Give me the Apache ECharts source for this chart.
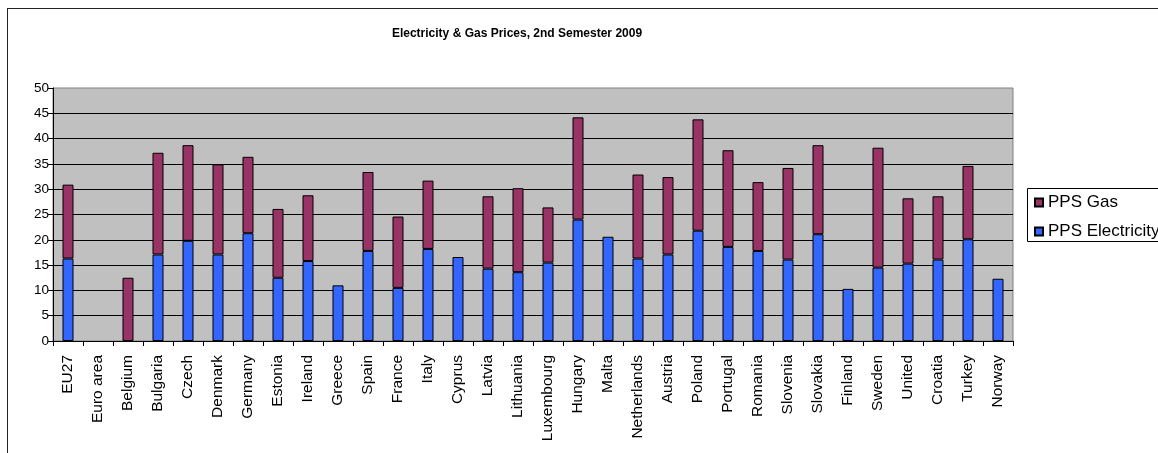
<!DOCTYPE html>
<html>
<head>
<meta charset="utf-8">
<script src="https://cdn.jsdelivr.net/npm/echarts@6/dist/echarts.min.js"></script>
<style>
  html, body { margin: 0; padding: 0; background: #fff; overflow: hidden; }
  #chart { position: absolute; left: 0; top: 0; width: 1158px; height: 453px; }
  #frame { position: absolute; left: 7px; top: 8px; width: 1400px; height: 600px;
           border: 1px solid #222; pointer-events: none; }
</style>
</head>
<body>
<div id="chart"></div>
<div id="frame"></div>
<script>
// Countries along the category axis
const countries = ['EU27', 'Euro area', 'Belgium', 'Bulgaria', 'Czech', 'Denmark', 'Germany',
  'Estonia', 'Ireland', 'Greece', 'Spain', 'France', 'Italy', 'Cyprus', 'Latvia', 'Lithuania',
  'Luxembourg', 'Hungary', 'Malta', 'Netherlands', 'Austria', 'Poland', 'Portugal', 'Romania',
  'Slovenia', 'Slovakia', 'Finland', 'Sweden', 'United', 'Croatia', 'Turkey', 'Norway'];

// Electricity price (PPS), lower segment of each stack
const ppsElectricity = [16.3, null, null, 17.1, 19.8, 17.1, 21.3, 12.5, 15.8, 11.0, 17.8, 10.5,
  18.2, 16.6, 14.3, 13.6, 15.5, 24.0, 20.6, 16.3, 17.1, 21.8, 18.6, 17.8,
  16.1, 21.1, 10.3, 14.5, 15.3, 16.1, 20.1, 12.3];

// Gas price (PPS), stacked on top of electricity
const ppsGas = [14.6, null, 12.5, 20.1, 18.9, 17.8, 15.1, 13.6, 13.0, null, 15.6, 14.1,
  13.5, null, 14.3, 16.6, 10.9, 20.2, null, 16.6, 15.3, 22.0, 19.1, 13.6,
  18.1, 17.6, null, 23.7, 12.9, 12.5, 14.5, null];

const FONT = '"Liberation Sans", Arial, sans-serif';

const chart = echarts.init(document.getElementById('chart'), null, { renderer: 'canvas' });

chart.setOption({
  backgroundColor: '#ffffff',
  animation: false,
  title: {
    text: 'Electricity & Gas Prices, 2nd Semester 2009',
    left: 517,
    top: 28,
    textAlign: 'center',
    padding: 0,
    textStyle: { fontFamily: FONT, fontSize: 12, fontWeight: 'bold', color: '#000' }
  },
  // legend frame, open to the right where it runs past the page edge
  graphic: [{
    type: 'rect',
    left: 1027,
    top: 188,
    shape: { width: 200, height: 53 },
    style: { fill: '#fff', stroke: '#000', lineWidth: 1 },
    z: 0
  }],
  legend: {
    orient: 'vertical',
    left: 1027,
    top: 188,
    padding: [6, 0, 3, 7],
    itemWidth: 8,
    itemHeight: 8,
    itemGap: 12,
    icon: 'rect',
    textStyle: { fontFamily: FONT, fontSize: 17, lineHeight: 16, color: '#000' },
    data: ['PPS Gas', 'PPS Electricity'],
    z: 5
  },
  grid: {
    left: 53,
    top: 88,
    width: 960,
    height: 253,
    show: true,
    backgroundColor: '#C0C0C0',
    borderColor: '#808080',
    borderWidth: 1
  },
  xAxis: {
    type: 'category',
    data: countries,
    boundaryGap: true,
    axisLine: { show: true, lineStyle: { color: '#000', width: 1 } },
    axisTick: { show: true, alignWithLabel: false, inside: false, length: 5,
                lineStyle: { color: '#000' } },
    axisLabel: { rotate: 90, interval: 0, margin: 14, fontFamily: FONT,
                 fontSize: 15.5, color: '#000' },
    splitLine: { show: false }
  },
  yAxis: {
    type: 'value',
    min: 0,
    max: 50,
    interval: 5,
    axisLine: { show: true, lineStyle: { color: '#000', width: 1 } },
    axisTick: { show: true, inside: false, length: 5, lineStyle: { color: '#000' } },
    axisLabel: { margin: 4, fontFamily: FONT, fontSize: 13.5, color: '#000' },
    splitLine: { show: true, showMaxLine: false, lineStyle: { color: '#000', width: 1 } }
  },
  series: [
    {
      name: 'PPS Electricity',
      type: 'bar',
      stack: 'price',
      barWidth: 11,
      data: ppsElectricity,
      itemStyle: { color: '#3366FF', borderColor: '#000', borderWidth: 1 }
    },
    {
      name: 'PPS Gas',
      type: 'bar',
      stack: 'price',
      barWidth: 11,
      data: ppsGas,
      itemStyle: { color: '#993366', borderColor: '#000', borderWidth: 1 }
    }
  ]
});
</script>
</body>
</html>
